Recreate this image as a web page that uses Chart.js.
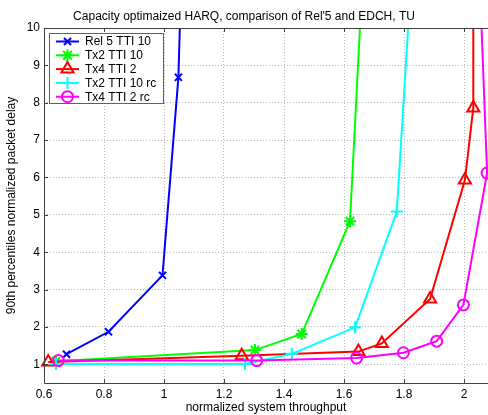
<!DOCTYPE html>
<html>
<head>
<meta charset="utf-8">
<script src="https://cdn.jsdelivr.net/npm/chart.js"></script>
<style>
  html, body { margin: 0; padding: 0; background: #fff; }
  #wrap { width: 488px; height: 415px; }
</style>
</head>
<body>
<div id="wrap"><canvas id="c" width="488" height="415"></canvas></div>
<script>
// series (points above y=10 are where the curves leave the plot)
const seriesNames = ['Rel 5 TTI 10', 'Tx2 TTI 10', 'Tx4 TTI 2', 'Tx2 TTI 10 rc', 'Tx4 TTI 2 rc'];

const rel5X = [0.675, 0.815, 0.995, 1.048, 1.060];
const rel5Y = [1.27, 1.87, 3.38, 8.68, 12];

const tx2X = [0.640, 1.303, 1.459, 1.620, 1.666];
const tx2Y = [1.08, 1.38, 1.81, 4.83, 12];

const tx4X = [0.614, 1.259, 1.648, 1.726, 1.887, 2.003, 2.031, 2.031];
const tx4Y = [1.06, 1.23, 1.34, 1.56, 2.75, 5.93, 7.86, 12];

const tx2rcX = [0.640, 1.270, 1.426, 1.637, 1.776, 1.829];
const tx2rcY = [1.01, 1.01, 1.28, 1.99, 5.09, 12];

const tx4rcX = [0.648, 1.309, 1.642, 1.798, 1.909, 1.998, 2.077, 2.049];
const tx4rcY = [1.10, 1.10, 1.17, 1.31, 1.62, 2.59, 6.12, 12];

const xTicks = [0.6, 0.8, 1, 1.2, 1.4, 1.6, 1.8, 2];
const yTicks = [1, 2, 3, 4, 5, 6, 7, 8, 9, 10];

const colors = ['#0000ff', '#00ff00', '#ff0000', '#00ffff', '#ff00ff'];
const styles = ['crossRot', 'star', 'triangle', 'cross', 'circle'];
const radii = [5, 6, 7, 6, 5.5];

const FONT = 'Arial, "Liberation Sans", Helvetica, sans-serif';

function toPoints(xs, ys) {
  return xs.map((x, i) => ({ x: x, y: ys[i] }));
}

const allX = [rel5X, tx2X, tx4X, tx2rcX, tx4rcX];
const allY = [rel5Y, tx2Y, tx4Y, tx2rcY, tx4rcY];

const datasets = seriesNames.map((name, i) => ({
  label: name,
  data: toPoints(allX[i], allY[i]),
  borderColor: colors[i],
  borderWidth: 2,
  pointStyle: styles[i],
  pointRadius: radii[i],
  pointBorderWidth: 2,
  pointBorderColor: colors[i],
  pointBackgroundColor: 'rgba(0,0,0,0)',
  tension: 0,
  fill: false,
  order: 4 - i,
  clip: { left: 10, right: 10, top: 0, bottom: 10 }
}));

// frame, inward ticks and the boxed legend, matlab style
const framePlugin = {
  id: 'frame',
  afterDatasetsDraw(chart) {
    const ctx = chart.ctx;
    const a = chart.chartArea;
    const xs = chart.scales.x, ys = chart.scales.y;
    ctx.save();
    ctx.strokeStyle = '#404040';
    ctx.lineWidth = 1;
    ctx.beginPath();
    ctx.moveTo(a.left + 0.5, a.top + 0.5);
    ctx.lineTo(a.right + 0.5, a.top + 0.5);
    ctx.moveTo(a.left + 0.5, a.top + 0.5);
    ctx.lineTo(a.left + 0.5, a.bottom + 0.5);
    ctx.lineTo(a.right + 0.5, a.bottom + 0.5);
    xTicks.forEach(v => {
      const px = Math.round(xs.getPixelForValue(v)) + 0.5;
      ctx.moveTo(px, a.bottom);
      ctx.lineTo(px, a.bottom - 4);
      ctx.moveTo(px, a.top);
      ctx.lineTo(px, a.top + 4);
    });
    yTicks.forEach(v => {
      const py = Math.round(ys.getPixelForValue(v)) + 0.5;
      ctx.moveTo(a.left, py);
      ctx.lineTo(a.left + 4, py);
    });
    ctx.stroke();

    // legend
    const bx = 49.5, by = 33.5, bw = 114, bh = 70;
    ctx.fillStyle = '#fff';
    ctx.fillRect(bx, by, bw, bh);
    ctx.strokeStyle = '#606060';
    ctx.strokeRect(bx, by, bw, bh);
    ctx.font = '12px ' + FONT;
    ctx.textBaseline = 'middle';
    ctx.textAlign = 'left';
    seriesNames.forEach((name, i) => {
      const y = 41.5 + i * 13.8;
      ctx.strokeStyle = colors[i];
      ctx.lineWidth = 2;
      ctx.beginPath();
      ctx.moveTo(56, y);
      ctx.lineTo(79, y);
      ctx.stroke();
      ctx.fillStyle = 'rgba(0,0,0,0)';
      Chart.helpers.drawPoint(ctx, {
        pointStyle: styles[i],
        radius: radii[i],
        borderWidth: 2,
        rotation: 0
      }, 67.5, y);
      ctx.fillStyle = '#000';
      ctx.fillText(name, 85, y + 0.5);
    });
    ctx.restore();
  }
};

new Chart(document.getElementById('c'), {
  type: 'line',
  data: { datasets: datasets },
  options: {
    responsive: false,
    devicePixelRatio: 1,
    animation: false,
    events: [],
    layout: { padding: 0, autoPadding: false },
    plugins: {
      legend: { display: false },
      tooltip: { enabled: false },
      title: {
        display: true,
        text: "Capacity optimaized HARQ, comparison of Rel'5 and EDCH, TU",
        color: '#000',
        font: { family: FONT, size: 12, weight: 'normal' },
        padding: { top: 9, bottom: 4.6 }
      }
    },
    scales: {
      x: {
        type: 'linear',
        min: 0.6,
        max: 2.08,
        afterBuildTicks: s => { s.ticks = xTicks.map(v => ({ value: v })); },
        afterFit: s => { s.height = 32; },
        ticks: {
          color: '#000',
          font: { family: FONT, size: 12 },
          padding: 4,
          maxRotation: 0,
          autoSkip: false,
          callback: v => String(v)
        },
        grid: { color: '#b8b8b8', drawTicks: false, lineWidth: 1 },
        border: { display: false, dash: [1, 2] },
        title: {
          display: true,
          text: 'normalized system throughput',
          color: '#000',
          font: { family: FONT, size: 12 },
          padding: { top: 0, bottom: 0 }
        }
      },
      y: {
        type: 'linear',
        min: 0.5,
        max: 10,
        afterBuildTicks: s => { s.ticks = yTicks.map(v => ({ value: v })); },
        afterFit: s => { s.width = 44; },
        ticks: {
          color: '#000',
          font: { family: FONT, size: 12 },
          padding: 4,
          autoSkip: false,
          callback: v => String(v)
        },
        grid: { color: '#b8b8b8', drawTicks: false, lineWidth: 1 },
        border: { display: false, dash: [1, 2] },
        title: {
          display: true,
          text: '90th percentiles normalized packet delay',
          color: '#000',
          font: { family: FONT, size: 12 },
          padding: { top: 4, bottom: 0 }
        }
      }
    }
  },
  plugins: [framePlugin]
});
</script>
</body>
</html>
